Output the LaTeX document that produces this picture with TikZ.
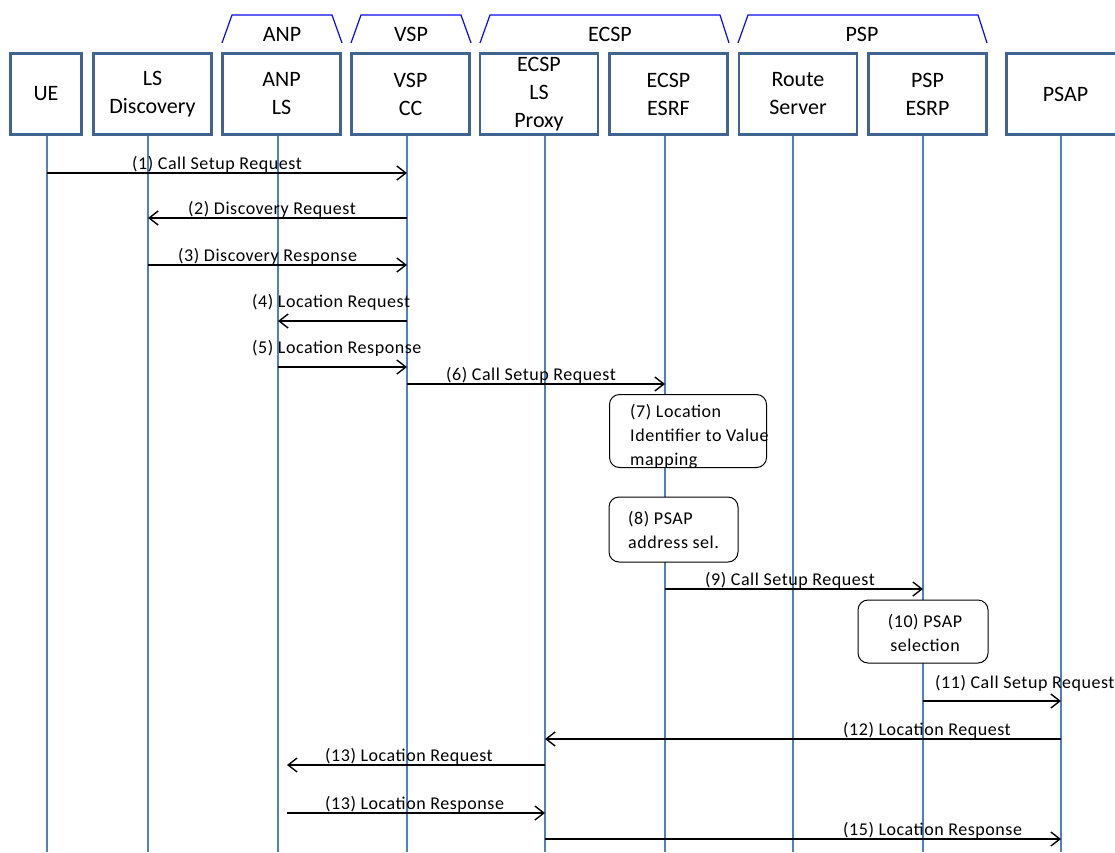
\documentclass[tikz,border=0pt]{standalone}
\usepackage{fontspec}
\setmainfont{Carlito}
\newfontfamily\msgfont[LetterSpace=3]{Carlito}
\usetikzlibrary{arrows.meta}
\definecolor{boxc}{RGB}{65,99,143}
\definecolor{lifec}{RGB}{79,129,189}
\definecolor{grpc}{RGB}{10,10,240}
\tikzset{
  entity/.style={draw=boxc, line width=2.6pt, fill=white, minimum width=118pt, minimum height=81pt,
    inner sep=0pt, align=center, font=\fontsize{22}{28}\selectfont},
  grpline/.style={draw=grpc, line width=1.2pt},
  grplbl/.style={anchor=base, inner sep=0pt, font=\fontsize{22}{28}\selectfont},
  life/.style={draw=lifec, line width=2pt},
  msg/.style={draw=black, line width=1.4pt, -{Straight Barb[length=9pt,width=14pt]}},
  lbl/.style={anchor=base west, inner sep=0pt, font={\fontsize{18}{23}\selectfont\msgfont}},
  proc/.style={draw=black, line width=1pt, rounded corners=10pt, fill=white, inner sep=0pt},
  ptxt/.style={inner sep=0pt, font={\fontsize{18}{24}\selectfont\msgfont}}
}
\begin{document}
\begin{tikzpicture}[x=1pt,y=-1pt]
\useasboundingbox (0,0) rectangle (1115,852);
% lifelines
\foreach \n/\x in {ue/47, lsd/148, anp/278, vsp/407, lsp/545, esrf/665, rs/793, esrp/923, psap/1061} {
  \coordinate (\n T) at (\x,136);
  \coordinate (\n B) at (\x,852);
  \draw[life] (\n T) -- (\n B);
}
% entities
\node[entity, minimum width=71pt] (UE) at (46,94) {UE};
\node[entity] (LSD) at (152.5,94) {LS\\Discovery};
\node[entity] (ANP) at (281.5,94) {ANP\\LS};
\node[entity] (VSP) at (410.5,94) {VSP\\CC};
\node[entity] (LSP) at (539,94) {ECSP\\LS\\Proxy};
\node[entity] (ESRF) at (668.5,94) {ECSP\\ESRF};
\node[entity] (RS) at (798,94) {Route\\Server};
\node[entity] (ESRP) at (927.5,94) {PSP\\ESRP};
\node[entity] (PSAP) at (1065.5,94) {PSAP};
% groups
\draw[grpline] (222,43) -- (232,15) -- (332,15) -- (342,43);
\node[grplbl] (gANP) at (282,41) {ANP};
\draw[grpline] (351,43) -- (361,15) -- (461,15) -- (471,43);
\node[grplbl] (gVSP) at (411,41) {VSP};
\draw[grpline] (480,43) -- (490,15) -- (720,15) -- (729,43);
\node[grplbl] (gECSP) at (610,41) {ECSP};
\draw[grpline] (738,43) -- (748,15) -- (978,15) -- (987,43);
\node[grplbl] (gPSP) at (862,41) {PSP};
% messages
\draw[msg] (ueT |- 0,173) -- (vspT |- 0,173);
\node[lbl] (m1) at (132,169) {(1) Call Setup Request};
\draw[msg] (vspT |- 0,218) -- (lsdT |- 0,218);
\node[lbl] (m2) at (188,214) {(2) Discovery Request};
\draw[msg] (lsdT |- 0,265) -- (vspT |- 0,265);
\node[lbl] (m3) at (178,261) {(3) Discovery Response};
\draw[msg] (vspT |- 0,321) -- (anpT |- 0,321);
\node[lbl] (m4) at (252,307) {(4) Location Request};
\draw[msg] (anpT |- 0,367) -- (vspT |- 0,367);
\node[lbl] (m5) at (252,353) {(5) Location Response};
\draw[msg] (vspT |- 0,384) -- (esrfT |- 0,384);
\node[lbl] (m6) at (446,380) {(6) Call Setup Request};
% (7)
\node[proc, minimum width=157pt, minimum height=73pt] (p7) at (688,431) {};
\node[ptxt, anchor=base west, align=left] (t7) at (630,465) {(7) Location\\Identifier to Value\\mapping};
% (8)
\node[proc, minimum width=129pt, minimum height=65pt] (p8) at (673.5,529.5) {};
\node[ptxt, anchor=base west, align=left] (t8) at (628,548) {(8) PSAP\\address sel.};
% (9)
\draw[msg] (esrfT |- 0,589) -- (esrpT |- 0,589);
\node[lbl] (m9) at (705,585) {(9) Call Setup Request};
% (10)
\node[proc, minimum width=130pt, minimum height=63pt] (p10) at (923,631.5) {};
\node[ptxt, anchor=base, align=center] (t10) at (925,651) {(10) PSAP\\selection};
% (11)
\draw[msg] (esrpT |- 0,701) -- (psapT |- 0,701);
\node[lbl] (m11) at (935,688) {(11) Call Setup Request};
% (12)
\draw[msg] (psapT |- 0,739) -- (lspT |- 0,739);
\node[lbl] (m12) at (843,735) {(12) Location Request};
% (13)
\coordinate (a13) at (287,765);
\draw[msg] (lspT |- a13) -- (a13);
\node[lbl] (m13) at (325,761) {(13) Location Request};
% (13) response
\coordinate (a14) at (287,813);
\draw[msg] (a14) -- (lspT |- a14);
\node[lbl] (m14) at (325,809) {(13) Location Response};
% (15)
\draw[msg] (lspT |- 0,839) -- (psapT |- 0,839);
\node[lbl] (m15) at (843,835) {(15) Location Response};
\end{tikzpicture}
\end{document}
